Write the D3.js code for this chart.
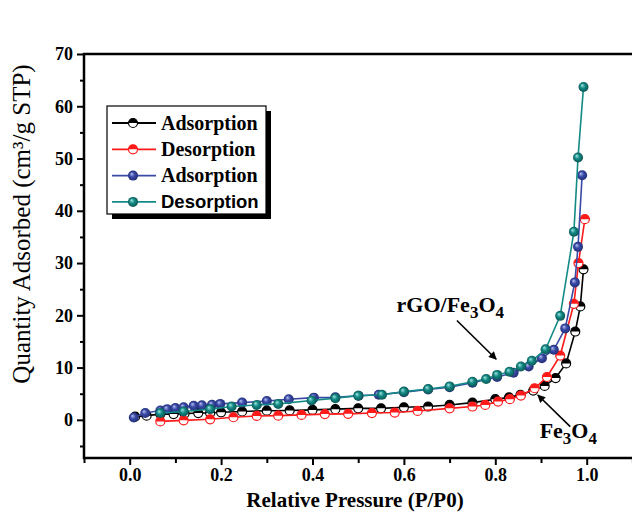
<!DOCTYPE html>
<html>
<head>
<meta charset="utf-8">
<script src="https://cdn.jsdelivr.net/npm/d3@7"></script>
<style>
body{margin:0;background:#fff;}
svg{display:block;}
</style>
</head>
<body>
<div id="chart"></div>
<script>
'use strict'
// Fe3O4 adsorption / desorption (P/P0, cm3/g STP)
var feAdsP = [0.012, 0.037, 0.067, 0.096, 0.12, 0.15, 0.176, 0.2, 0.246, 0.3, 0.35, 0.4, 0.45, 0.5, 0.55, 0.6, 0.653, 0.7, 0.75, 0.8, 0.83, 0.855, 0.883, 0.908, 0.932, 0.955, 0.975, 0.986, 0.993];
var feAdsQ = [0.6, 0.8, 1.1, 1.1, 1.2, 1.3, 1.3, 1.45, 1.6, 1.75, 1.8, 1.9, 2.05, 2.2, 2.2, 2.4, 2.55, 2.85, 3.3, 3.95, 4.3, 4.8, 5.6, 6.5, 8.0, 10.8, 16.9, 21.7, 28.8];
var feDesP = [0.067, 0.118, 0.176, 0.227, 0.278, 0.325, 0.376, 0.427, 0.478, 0.53, 0.58, 0.63, 0.7, 0.75, 0.778, 0.806, 0.832, 0.856, 0.886, 0.913, 0.942, 0.972, 0.982, 0.996];
var feDesQ = [-0.3, -0.1, 0.1, 0.5, 0.75, 0.8, 0.95, 1.1, 1.15, 1.3, 1.4, 1.7, 2.2, 2.55, 2.85, 3.5, 3.95, 4.65, 6.05, 8.2, 12.3, 22.2, 30.0, 38.4];

// rGO/Fe3O4 adsorption / desorption
var rgoAdsP = [0.009, 0.034, 0.067, 0.082, 0.1, 0.118, 0.14, 0.158, 0.18, 0.198, 0.246, 0.3, 0.348, 0.403, 0.45, 0.501, 0.545, 0.6, 0.653, 0.7, 0.75, 0.804, 0.84, 0.873, 0.902, 0.928, 0.953, 0.974, 0.981, 0.99];
var rgoAdsQ = [0.45, 1.3, 1.8, 2.05, 2.25, 2.4, 2.7, 2.8, 2.9, 3.05, 3.3, 3.6, 3.95, 4.25, 4.3, 4.6, 4.8, 5.3, 5.8, 6.25, 7.1, 8.2, 9.0, 10.2, 11.8, 13.4, 17.5, 26.3, 33.1, 46.8];
var rgoDesP = [0.067, 0.118, 0.176, 0.223, 0.278, 0.325, 0.398, 0.45, 0.5, 0.552, 0.6, 0.653, 0.7, 0.75, 0.78, 0.804, 0.831, 0.856, 0.88, 0.91, 0.942, 0.972, 0.981, 0.993];
var rgoDesQ = [1.3, 1.6, 2.05, 2.55, 2.85, 3.05, 3.7, 4.15, 4.6, 4.8, 5.4, 5.9, 6.4, 7.3, 7.8, 8.6, 9.2, 10.2, 11.3, 13.5, 19.9, 36.0, 50.2, 63.7];

var xTicks = [0, 0.2, 0.4, 0.6, 0.8, 1.0];
var xMinorTicks = [-0.1, 0.1, 0.3, 0.5, 0.7, 0.9, 1.1];
var yTicks = [0, 10, 20, 30, 40, 50, 60, 70];
var yMinorTicks = [-5, 5, 15, 25, 35, 45, 55, 65];
var legendLabels = ['Adsorption', 'Desorption', 'Adsorption', 'Desorption'];

var chart = (function(){
    var self = {},
    _svg, _x, _y,
    W = 632, H = 516,
    serif = '"Liberation Serif", "Times New Roman", serif',
    sans = '"Liberation Sans", Arial, sans-serif',

    zip = function(px, qy){
        return px.map(function(p, i){ return {p: p, q: qy[i]}; });
    },

    series = [
        {id: 'feAds', data: zip(feAdsP, feAdsQ), color: '#000000', marker: 'half'},
        {id: 'feDes', data: zip(feDesP, feDesQ), color: '#ff1a1a', marker: 'half'},
        {id: 'rgoAds', data: zip(rgoAdsP, rgoAdsQ), color: '#3949a6', marker: 'ball', light: '#b8c2f0', dark: '#1f2a6e'},
        {id: 'rgoDes', data: zip(rgoDesP, rgoDesQ), color: '#138a86', marker: 'ball', light: '#a8e6df', dark: '#0a4f4c'}
    ],

    addSVG = function(){
        _svg = d3.select('#chart').append('svg')
            .attr('width', W).attr('height', H);
        _svg.append('rect').attr('width', W).attr('height', H).attr('fill', '#fff');

        var defs = _svg.append('defs');
        series.filter(function(s){ return s.marker === 'ball'; }).forEach(function(s){
            var g = defs.append('radialGradient').attr('id', 'grad_' + s.id)
                .attr('cx', '50%').attr('cy', '50%').attr('r', '55%')
                .attr('fx', '35%').attr('fy', '32%');
            g.append('stop').attr('offset', '0%').attr('stop-color', s.light);
            g.append('stop').attr('offset', '45%').attr('stop-color', s.color);
            g.append('stop').attr('offset', '100%').attr('stop-color', s.dark);
        });
        defs.append('marker').attr('id', 'arrow')
            .attr('viewBox', '0 0 10 10').attr('refX', 9).attr('refY', 5)
            .attr('markerWidth', 12).attr('markerHeight', 8)
            .attr('markerUnits', 'userSpaceOnUse')
            .attr('orient', 'auto')
            .append('path').attr('d', 'M0,0 L10,5 L0,10 Z').attr('fill', '#000');
    },

    createScales = function(){
        _x = d3.scaleLinear().domain([-0.1, 1.2]).range([84, 84 + 1.3 * 457]);
        _y = d3.scaleLinear().domain([-7.3, 70]).range([458, 54]);
    },

    drawAxes = function(){
        var bottom = _svg.append('g').attr('transform', 'translate(0,' + _y(-7.3) + ')');
        bottom.call(d3.axisBottom(_x).tickValues(xTicks).tickSize(7).tickPadding(3)
            .tickFormat(d3.format('.1f')));
        bottom.append('g').call(d3.axisBottom(_x).tickValues(xMinorTicks).tickSize(5).tickFormat(''));

        var left = _svg.append('g').attr('transform', 'translate(' + _x(-0.1) + ',0)');
        left.call(d3.axisLeft(_y).tickValues(yTicks).tickSize(7).tickPadding(4));
        left.append('g').call(d3.axisLeft(_y).tickValues(yMinorTicks).tickSize(4).tickFormat(''));

        _svg.selectAll('.domain').remove();
        _svg.selectAll('.tick line').attr('stroke', '#000').attr('stroke-width', 2);
        _svg.selectAll('.tick text')
            .attr('font-family', serif).attr('font-weight', 'bold')
            .attr('font-size', '18px').attr('fill', '#000');

        // frame (top + left + bottom; right edge lies past the picture)
        _svg.append('path')
            .attr('d', 'M' + W + ',' + _y(70) + 'H' + _x(-0.1) + 'V' + _y(-7.3) + 'H' + W)
            .attr('fill', 'none').attr('stroke', '#000').attr('stroke-width', 2.5);

        _svg.append('text')
            .attr('x', 355).attr('y', 507)
            .attr('text-anchor', 'middle')
            .attr('font-family', serif).attr('font-weight', 'bold').attr('font-size', '21px')
            .text('Relative Pressure (P/P0)');

        _svg.append('text')
            .attr('transform', 'translate(30,224) rotate(-90)')
            .attr('text-anchor', 'middle')
            .attr('font-family', serif).attr('font-size', '25px')
            .text('Quantity Adsorbed (cm³/g STP)');
    },

    drawMarker = function(sel, s, r){
        if (s.marker === 'half') {
            sel.append('circle').attr('r', r).attr('fill', '#fff')
                .attr('stroke', s.color).attr('stroke-width', 1.2);
            sel.append('path')
                .attr('d', 'M' + (-r) + ',0 A' + r + ',' + r + ' 0 0 1 ' + r + ',0 Z')
                .attr('fill', s.color);
        } else {
            sel.append('circle').attr('r', r + 0.5).attr('fill', 'url(#grad_' + s.id + ')');
        }
    },

    drawSeries = function(){
        var line = d3.line().x(function(d){ return _x(d.p); }).y(function(d){ return _y(d.q); });
        series.forEach(function(s){
            var g = _svg.append('g').attr('id', s.id);
            g.append('path').datum(s.data).attr('d', line)
                .attr('fill', 'none').attr('stroke', s.color).attr('stroke-width', 1.6);
            g.selectAll('g.pt').data(s.data).enter().append('g').attr('class', 'pt')
                .attr('transform', function(d){ return 'translate(' + _x(d.p) + ',' + _y(d.q) + ')'; })
                .each(function(){ drawMarker(d3.select(this), s, 4.5); });
        });
    },

    drawLegend = function(){
        var lg = _svg.append('g').attr('transform', 'translate(107,106)');
        lg.append('rect').attr('x', 5).attr('y', 5).attr('width', 159).attr('height', 108).attr('fill', '#000');
        lg.append('rect').attr('width', 159).attr('height', 108)
            .attr('fill', '#fff').attr('stroke', '#000').attr('stroke-width', 1.2);
        series.forEach(function(s, i){
            var row = lg.append('g').attr('transform', 'translate(0,' + (17 + i * 26.3) + ')');
            row.append('line').attr('x1', 5).attr('x2', 49).attr('stroke', s.color).attr('stroke-width', 1.8);
            drawMarker(row.append('g').attr('transform', 'translate(26,0)'), s, 4.5);
            row.append('text').attr('x', 54).attr('y', 6.5)
                .attr('font-family', i === 3 ? sans : serif)
                .attr('font-weight', 'bold')
                .attr('font-size', i === 3 ? '18.5px' : '20px')
                .text(legendLabels[i]);
        });
    },

    drawNotes = function(){
        var t1 = _svg.append('text').attr('x', _x(0.584)).attr('y', _y(20.7))
            .attr('font-family', serif).attr('font-weight', 'bold').attr('font-size', '22px');
        t1.append('tspan').text('rGO/Fe');
        t1.append('tspan').attr('dy', 6).attr('font-size', '17px').text('3');
        t1.append('tspan').attr('dy', -6).text('O');
        t1.append('tspan').attr('dy', 6).attr('font-size', '17px').text('4');

        var t2 = _svg.append('text').attr('x', _x(0.897)).attr('y', _y(-3.5))
            .attr('font-family', serif).attr('font-weight', 'bold').attr('font-size', '22px');
        t2.append('tspan').text('Fe');
        t2.append('tspan').attr('dy', 6).attr('font-size', '17px').text('3');
        t2.append('tspan').attr('dy', -6).text('O');
        t2.append('tspan').attr('dy', 6).attr('font-size', '17px').text('4');

        _svg.append('line')
            .attr('x1', _x(0.716)).attr('y1', _y(19.0)).attr('x2', _x(0.802)).attr('y2', _y(11.6))
            .attr('stroke', '#000').attr('stroke-width', 1.6).attr('marker-end', 'url(#arrow)');
        _svg.append('line')
            .attr('x1', _x(0.964)).attr('y1', _y(-1.3)).attr('x2', _x(0.893)).attr('y2', _y(4.75))
            .attr('stroke', '#000').attr('stroke-width', 1.6).attr('marker-end', 'url(#arrow)');
    };

    self.init = function(){
        addSVG();
        createScales();
        drawAxes();
        drawSeries();
        drawLegend();
        drawNotes();
    };

    return self;
}());

chart.init();
</script>
</body>
</html>
